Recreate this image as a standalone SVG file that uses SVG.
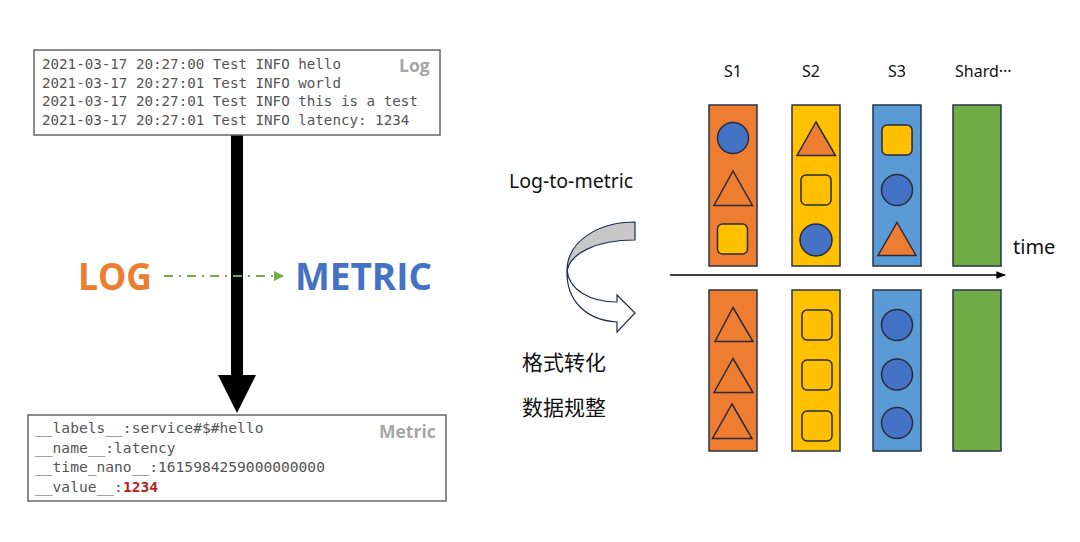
<svg xmlns="http://www.w3.org/2000/svg" width="1080" height="542" viewBox="0 0 1080 542">
<style>
.mono{font-family:"DejaVu Sans Mono","Liberation Mono",monospace;fill:#555;}
.tag{font-family:"Open Sans","Liberation Sans",sans-serif;font-weight:bold;fill:#a6a6a6;font-size:17.5px;}
.sans{font-family:"Noto Sans","Liberation Sans",sans-serif;fill:#111;}
.cjk{font-family:"Noto Sans CJK SC",sans-serif;fill:#111;font-size:21px;}
.col{stroke:#2a3344;stroke-width:1.5;}
.shp{stroke:#2a2a3a;stroke-width:1.5;}
.or{fill:#ED7D31;} .ye{fill:#FFC000;} .lb{fill:#5B9BD5;} .gr{fill:#70AD47;} .db{fill:#4472C4;}
</style>
<defs>
<marker id="gA" viewBox="0 0 10 10" refX="9" refY="5" markerWidth="5" markerHeight="5" orient="auto"><path d="M0,0 L10,5 L0,10 Z" fill="#70AD47"/></marker>
<marker id="kA" viewBox="0 0 10 10" refX="9" refY="5" markerWidth="6" markerHeight="6" orient="auto"><path d="M0,1 L10,5 L0,9 Z" fill="#000"/></marker>
</defs>
<rect width="1080" height="542" fill="#fff"/>

<g id="connectors">
<path d="M231,135 L243,135 L243,375 L256,375 L237,413 L218,375 L231,375 Z" fill="#000"/>
<line x1="164" y1="276" x2="283" y2="276" stroke="#70AD47" stroke-width="2" stroke-dasharray="9,6,2,6" marker-end="url(#gA)"/>
<line x1="670" y1="275" x2="1005" y2="275" stroke="#000" stroke-width="1.6" marker-end="url(#kA)"/>
</g>

<g id="log-box">
<rect x="34" y="50" width="406" height="85" fill="#fff" stroke="#666" stroke-width="1.5"/>
<text class="mono" font-size="14.2" x="42" y="69">2021-03-17 20:27:00 Test INFO hello</text>
<text class="mono" font-size="14.2" x="42" y="88">2021-03-17 20:27:01 Test INFO world</text>
<text class="mono" font-size="14.2" x="42" y="106">2021-03-17 20:27:01 Test INFO this is a test</text>
<text class="mono" font-size="14.2" x="42" y="125">2021-03-17 20:27:01 Test INFO latency: 1234</text>
<text class="tag" x="399" y="72">Log</text>
</g>

<g id="metric-box">
<rect x="28" y="415" width="418" height="86" fill="#fff" stroke="#666" stroke-width="1.5"/>
<text class="mono" font-size="14.6" x="35" y="433">__labels__:service#$#hello</text>
<text class="mono" font-size="14.6" x="35" y="453">__name__:latency</text>
<text class="mono" font-size="14.6" x="35" y="472">__time_nano__:1615984259000000000</text>
<text class="mono" font-size="14.6" x="35" y="492">__value__:<tspan fill="#b22222" font-weight="bold">1234</tspan></text>
<text class="tag" x="379" y="438">Metric</text>
</g>

<g id="log-label"><text x="78" y="290" font-family="Open Sans,Liberation Sans,sans-serif" font-weight="bold" font-size="38" fill="#ED7D31" textLength="74" lengthAdjust="spacingAndGlyphs">LOG</text></g>
<g id="metric-label"><text x="295" y="290" font-family="Open Sans,Liberation Sans,sans-serif" font-weight="bold" font-size="38" fill="#4472C4" textLength="137" lengthAdjust="spacingAndGlyphs">METRIC</text></g>

<g id="transform">
<text class="sans" x="509" y="188" font-size="19.5">Log-to-metric</text>
<path d="M635,222 C600,222 567,240 567,271 C570,254 595,240 635,240 Z" fill="#c8c8c8" stroke="#1f2d4d" stroke-width="1.2"/>
<path d="M567,270 C569,290 590,302 617,302 L617,295 L635,313 L617,332 L617,322 C585,320 566,300 567,270 Z" fill="#fff" stroke="#1f2d4d" stroke-width="1.2"/>
<text class="cjk" x="522" y="370">格式转化</text>
<text class="cjk" x="522" y="415">数据规整</text>
</g>

<g id="headers">
<text class="sans" x="733" y="77" font-size="16" text-anchor="middle">S1</text>
<text class="sans" x="811" y="77" font-size="16" text-anchor="middle">S2</text>
<text class="sans" x="897" y="77" font-size="16" text-anchor="middle">S3</text>
<text class="sans" x="955" y="77" font-size="16">Shard···</text>
<text class="sans" x="1013" y="254" font-size="20">time</text>
</g>

<g id="s1-top">
<rect class="col or" x="709" y="105" width="48" height="161"/>
<circle class="shp db" cx="733" cy="138" r="15.5"/>
<path class="shp or" d="M733,171 L752.5,205.5 L714,205.5 Z"/>
<rect class="shp ye" x="717.5" y="224" width="30" height="30" rx="5"/>
</g>
<g id="s2-top">
<rect class="col ye" x="792" y="105" width="48" height="161"/>
<path class="shp or" d="M816,122 L835.5,155.5 L797,155.5 Z"/>
<rect class="shp ye" x="801" y="175" width="30" height="30" rx="5"/>
<circle class="shp db" cx="816" cy="240" r="16"/>
</g>
<g id="s3-top">
<rect class="col lb" x="873" y="105" width="48" height="161"/>
<rect class="shp ye" x="882" y="125" width="30" height="30" rx="5"/>
<circle class="shp db" cx="897" cy="190" r="15.5"/>
<path class="shp or" d="M897,222.5 L916,255.5 L878,255.5 Z"/>
</g>
<g id="s4-top"><rect class="col gr" x="953" y="105" width="48" height="161"/></g>

<g id="s1-bottom">
<rect class="col or" x="709" y="290" width="48" height="161"/>
<path class="shp or" d="M733,307.5 L753,341.5 L715,341.5 Z"/>
<path class="shp or" d="M733,358.5 L753,392.5 L714,392.5 Z"/>
<path class="shp or" d="M732,404 L752,438.5 L712.5,438.5 Z"/>
</g>
<g id="s2-bottom">
<rect class="col ye" x="792" y="290" width="48" height="161"/>
<rect class="shp ye" x="802" y="310" width="30" height="30" rx="5"/>
<rect class="shp ye" x="802" y="360" width="30" height="30" rx="5"/>
<rect class="shp ye" x="802" y="411" width="30" height="30" rx="5"/>
</g>
<g id="s3-bottom">
<rect class="col lb" x="873" y="290" width="48" height="161"/>
<circle class="shp db" cx="897" cy="325" r="15.5"/>
<circle class="shp db" cx="897" cy="374.5" r="15.5"/>
<circle class="shp db" cx="897" cy="423" r="15.5"/>
</g>
<g id="s4-bottom"><rect class="col gr" x="953" y="290" width="48" height="161"/></g>
</svg>
